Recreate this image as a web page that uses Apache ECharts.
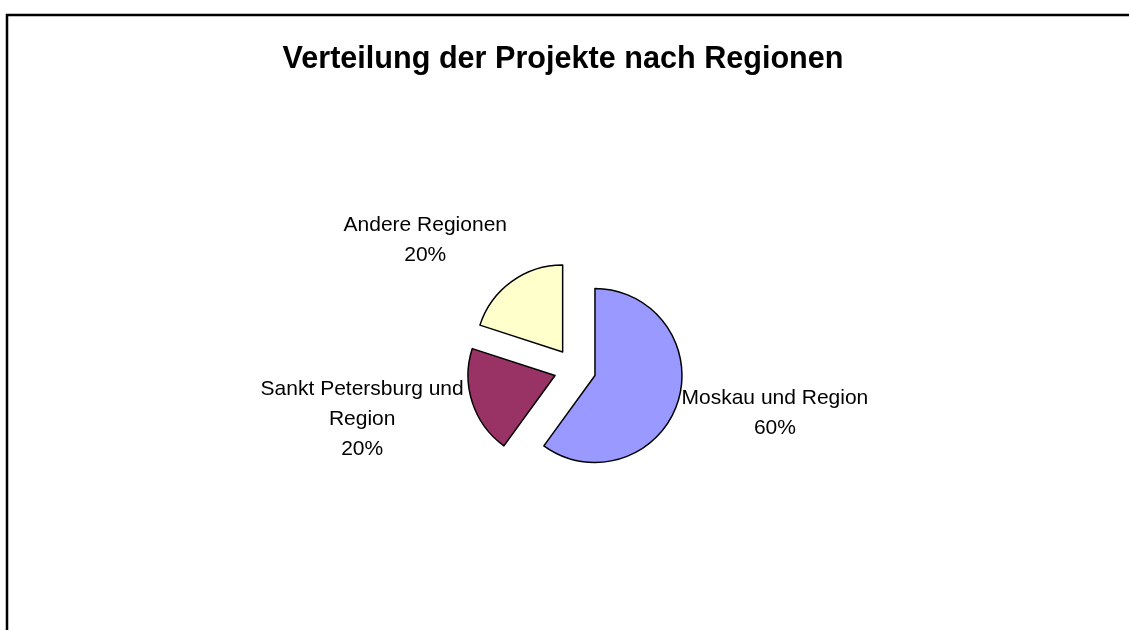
<!DOCTYPE html>
<html>
<head>
<meta charset="utf-8">
<script src="https://cdn.jsdelivr.net/npm/echarts@6/dist/echarts.min.js"></script>
<style>
  html, body { margin: 0; padding: 0; background: #fff; }
  #chart { width: 1129px; height: 630px; }
</style>
</head>
<body>
<div id="chart"></div>
<script>
// data
const regions = ['Moskau und Region', 'Sankt Petersburg und\nRegion', 'Andere Regionen'];
const shares = [60, 20, 20];

// styling
const sliceColors = ['#9999FF', '#993366', '#FFFFCC'];
const labelGaps = [4, 9, 21];
const fontFamily = 'Liberation Sans, Arial, sans-serif';
const pieCenter = [575, 369];
const pieRadius = 87;
const explode = 21;

const chart = echarts.init(document.getElementById('chart'));

// direction of each slice's middle, clockwise from 12 o'clock
const total = shares.reduce((a, b) => a + b, 0);
let acc = 0;
const midDirs = shares.map((v) => {
  const a = ((acc + v / 2) / total) * 2 * Math.PI;
  acc += v;
  return [Math.sin(a), -Math.cos(a)];
});

const clamp1 = (v) => Math.max(-1, Math.min(1, v));

// Excel-like label placement: box sits just outside the slice along its mid angle
const makeLabelLayout = (i, cx, cy) => (params) => {
  if (params.dataIndex !== i) return {};
  const [dx, dy] = midDirs[i];
  const dist = pieRadius + labelGaps[i];
  const px = cx + dx * dist;
  const py = cy + dy * dist;
  const w = params.labelRect.width;
  const h = params.labelRect.height;
  return {
    x: px + clamp1(dx / 0.65) * w / 2,
    y: py + dy * h / 2,
    align: 'center',
    verticalAlign: 'middle'
  };
};

// one series per slice so each one can be pulled out on its own
const series = regions.map((_, i) => {
  const cx = pieCenter[0] + midDirs[i][0] * explode;
  const cy = pieCenter[1] + midDirs[i][1] * explode;
  return {
    type: 'pie',
    center: [cx, cy],
    radius: pieRadius,
    startAngle: 90,
    clockwise: true,
    silent: true,
    avoidLabelOverlap: false,
    emphasis: { disabled: true },
    label: {
      show: false,
      position: 'outside',
      formatter: '{b}\n{d}%',
      fontFamily,
      fontSize: 21,
      lineHeight: 30,
      color: '#000',
      align: 'center'
    },
    labelLine: { show: false },
    labelLayout: makeLabelLayout(i, cx, cy),
    data: regions.map((name, j) => ({
      name,
      value: shares[j],
      itemStyle: j === i
        ? { color: sliceColors[j], borderColor: '#000', borderWidth: 1.5 }
        : { color: 'rgba(0,0,0,0)', borderWidth: 0 },
      label: { show: j === i }
    }))
  };
});

const option = {
  backgroundColor: '#fff',
  animation: false,
  title: {
    text: 'Verteilung der Projekte nach Regionen',
    left: 558,
    top: 39,
    textAlign: 'center',
    textStyle: { fontFamily, fontSize: 30.6, fontWeight: 'bold', color: '#000' }
  },
  graphic: [
    {
      type: 'rect',
      shape: { x: 7, y: 15, width: 1200, height: 700 },
      style: { fill: null, stroke: '#000', lineWidth: 2.5 },
      silent: true
    }
  ],
  series
};

chart.setOption(option);
</script>
</body>
</html>
